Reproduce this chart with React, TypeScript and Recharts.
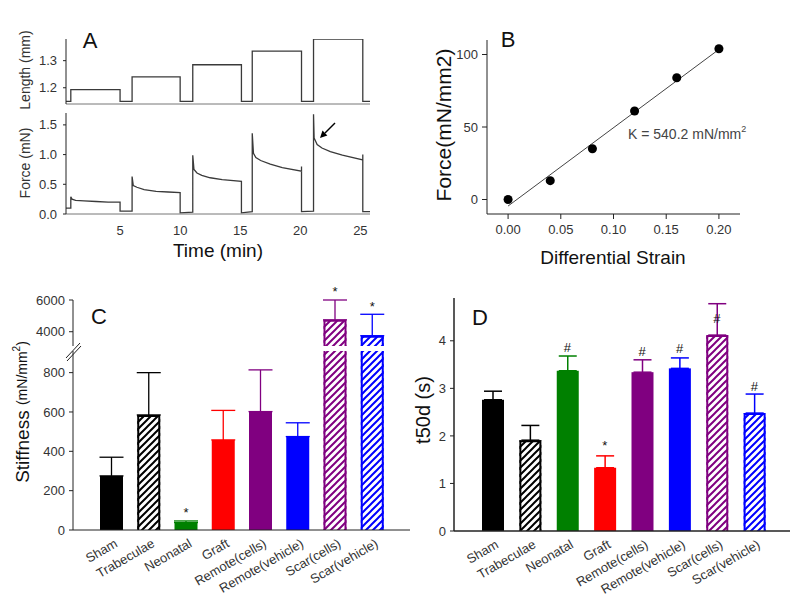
import {
  Bar,
  BarChart,
  ComposedChart,
  ErrorBar,
  Line,
  LineChart,
  ReferenceDot,
  Scatter,
  XAxis,
  YAxis,
} from 'recharts'

const FONT = '"Liberation Sans", Arial, Helvetica, sans-serif'
const INK = '#333'
const AXIS = '#222'
const TRACE = '#3a3a3a'

// ---- Panel A: step stretch protocol (length) and force response
const lengthTime = [0.5, 0.9, 0.9, 5, 5, 6, 6, 10, 10, 11.05, 11.05, 15.1, 15.1, 16, 16, 20.1, 20.1, 21.1, 21.1, 25.2, 25.2, 25.8]
const lengthMm = [1.15, 1.15, 1.193, 1.193, 1.15, 1.15, 1.24, 1.24, 1.15, 1.15, 1.285, 1.285, 1.15, 1.15, 1.335, 1.335, 1.15, 1.15, 1.38, 1.38, 1.15, 1.15]

const forceTime = [
  0.5, 0.9,
  0.9, 1.0, 1.3, 2, 3, 4, 5,
  5, 6,
  6, 6.1, 6.4, 7, 8, 9, 10,
  10, 11.05,
  11.05, 11.15, 11.4, 11.8, 12.5, 13.5, 15.1,
  15.1, 16,
  16, 16.1, 16.3, 16.7, 17.5, 18.5, 20.1, 20.1,
  20.1, 21.1,
  21.1, 21.15, 21.4, 21.8, 22.5, 23.5, 25.2, 25.2,
  25.2, 25.8,
]
const forceMn = [
  0.1, 0.1,
  0.29, 0.25, 0.23, 0.22, 0.21, 0.2, 0.2,
  0.05, 0.05,
  0.63, 0.48, 0.45, 0.41, 0.38, 0.37, 0.36,
  0.02, 0.03,
  0.99, 0.75, 0.69, 0.65, 0.61, 0.58, 0.55,
  0.02, 0.04,
  1.36, 1.02, 0.95, 0.9, 0.84, 0.78, 0.72, 0.8,
  0.04, 0.05,
  1.68, 1.28, 1.17, 1.11, 1.05, 0.99, 0.91, 1.0,
  0.04, 0.04,
]

// ---- Panel B: stress vs differential strain
const strain = [0, 0.04, 0.08, 0.12, 0.16, 0.2]
const stress = [0, 13, 35, 61, 84, 104]
const fitStrain = [0, 0.2]
const fitStress = [-4.5, 103.5]

// ---- Panels C and D: groups
const groups = ['Sham', 'Trabeculae', 'Neonatal', 'Graft', 'Remote(cells)', 'Remote(vehicle)', 'Scar(cells)', 'Scar(vehicle)']
const stiffness = [275, 585, 38, 458, 602, 475, 4750, 3750]
const stiffnessErr = [95, 215, 8, 150, 212, 70, 1250, 1350]
const stiffnessMark = [null, null, 102, null, null, null, 6680, 5750]
const stiffnessSig = ['', '', '*', '', '', '', '*', '*']

const t50d = [2.76, 1.91, 3.37, 1.33, 3.34, 3.42, 4.12, 2.48]
const t50dErr = [0.18, 0.31, 0.31, 0.25, 0.26, 0.22, 0.66, 0.4]
const t50dMark = [null, null, 3.87, 1.85, 3.77, 3.85, 4.47, 3.05]
const t50dSig = ['', '', '#', '*', '#', '#', '#', '#']

const groupColor = ['#000000', '#000000', '#008000', '#ff0000', '#800080', '#0000ff', '#800080', '#0000ff']
const groupHatched = [false, true, false, false, false, false, true, true]

// broken stiffness axis
const C_LOW_MAX = 910
const C_HIGH_MIN = 3100
const C_HIGH_MAX = 6000

const lengthRows = lengthTime.map((t, i) => ({ t, v: lengthMm[i] }))
const forceRows = forceTime.map((t, i) => ({ t, v: forceMn[i] }))
const strainPoints = strain.map((x, i) => ({ x, y: stress[i] }))
const fitRows = fitStrain.map((x, i) => ({ x, y: fitStress[i] }))

const stiffLow = groups.map((name, i) => ({
  name,
  i,
  v: stiffness[i],
  err: stiffness[i] + stiffnessErr[i] <= C_LOW_MAX ? stiffnessErr[i] : null,
}))
const stiffHigh = groups.map((name, i) => ({
  name,
  i,
  v: stiffness[i] > C_HIGH_MIN ? stiffness[i] : null,
  err: stiffness[i] > C_HIGH_MIN ? stiffnessErr[i] : null,
}))
const t50Rows = groups.map((name, i) => ({ name, i, v: t50d[i], err: t50dErr[i] }))

const tickStyle = { fontSize: 13, fill: INK, fontFamily: FONT }

function hatchDefs(prefix: string) {
  return (
    <defs>
      {groups.map((g, i) =>
        groupHatched[i] ? (
          <pattern key={g} id={`${prefix}-hatch-${i}`} patternUnits="userSpaceOnUse" width={7} height={7}>
            <rect width={7} height={7} fill="#fff" />
            <path d="M-1,1 l2,-2 M0,7 l7,-7 M6,8 l2,-2" stroke={groupColor[i]} strokeWidth={2} />
          </pattern>
        ) : null,
      )}
    </defs>
  )
}

function barShape(prefix: string) {
  return (props: any) => {
    const { x, y, width, height, payload } = props
    if (height == null || !width) return <g />
    const i = payload.i
    const c = groupColor[i]
    if (!groupHatched[i]) return <rect x={x} y={y} width={width} height={height} fill={c} />
    return (
      <g>
        <rect x={x} y={y} width={width} height={height} fill={`url(#${prefix}-hatch-${i})`} />
        <path
          d={`M${x + 1},${y + height} V${y + 1} H${x + width - 1} V${y + height}`}
          fill="none"
          stroke={c}
          strokeWidth={2}
        />
      </g>
    )
  }
}

function groupErrorBars(capWidth: number, strokeWidth: number) {
  return groups.map((g, i) => (
    <ErrorBar
      key={g}
      dataKey={(d: any) => (d.i === i && d.err != null ? [0, d.err] : undefined)}
      direction="y"
      width={capWidth}
      stroke={groupColor[i]}
      strokeWidth={strokeWidth}
    />
  ))
}

function sigDots(marks: (number | null)[], sig: string[], keep: (v: number) => boolean, size: number) {
  return groups.map((g, i) => {
    const m = marks[i]
    if (m == null || !keep(m)) return null
    return (
      <ReferenceDot
        key={g}
        x={g}
        y={m}
        r={0}
        ifOverflow="visible"
        shape={(p: any) => (
          <text
            x={p.cx}
            y={p.cy + (sig[i] === '*' ? 0.55 : 0.36) * size}
            textAnchor="middle"
            fontSize={size}
            fill="#111"
            fontFamily={FONT}
          >
            {sig[i]}
          </text>
        )}
      />
    )
  })
}

function SlantTick(props: any) {
  const { x, y, payload } = props
  const ax = x + 5
  const ay = y + 13
  return (
    <text
      x={ax}
      y={ay}
      transform={`rotate(-30 ${ax} ${ay})`}
      textAnchor="end"
      dominantBaseline="middle"
      fontSize={13}
      fill={INK}
      fontFamily={FONT}
    >
      {payload.value}
    </text>
  )
}

const abs = (left: number, top: number) => ({ position: 'absolute' as const, left, top })

function PanelA() {
  return (
    <>
      <div style={abs(0, 0)}>
        <LineChart width={400} height={110} data={lengthRows} margin={{ top: 39, right: 30, bottom: 0, left: 0 }}>
          <XAxis
            dataKey="t"
            type="number"
            domain={[0.5, 25.8]}
            allowDataOverflow
            tick={false}
            tickLine={false}
            height={6}
            axisLine={{ stroke: '#777' }}
          />
          <YAxis
            type="number"
            domain={[1.14, 1.38]}
            allowDataOverflow
            ticks={[1.2, 1.3]}
            tickFormatter={(v) => v.toFixed(1)}
            width={66}
            tickSize={3}
            tickMargin={6}
            tick={tickStyle}
            axisLine={{ stroke: AXIS }}
            tickLine={{ stroke: AXIS }}
          />
          <Line type="linear" dataKey="v" stroke={TRACE} strokeWidth={1.3} dot={false} isAnimationActive={false} />
        </LineChart>
      </div>
      <div style={abs(0, 0)}>
        <LineChart width={400} height={260} data={forceRows} margin={{ top: 113, right: 30, bottom: 14, left: 0 }}>
          <XAxis
            dataKey="t"
            type="number"
            domain={[0.5, 25.8]}
            allowDataOverflow
            ticks={[5, 10, 15, 20, 25]}
            height={32}
            tickLine={false}
            tickSize={4}
            tickMargin={8}
            tick={tickStyle}
            axisLine={{ stroke: '#777' }}
          />
          <YAxis
            type="number"
            domain={[0, 1.7]}
            allowDataOverflow
            ticks={[0, 0.5, 1, 1.5]}
            tickFormatter={(v) => v.toFixed(1)}
            width={66}
            tickSize={3}
            tickMargin={6}
            tick={tickStyle}
            axisLine={{ stroke: AXIS }}
            tickLine={{ stroke: AXIS }}
          />
          <Line type="linear" dataKey="v" stroke={TRACE} strokeWidth={1.3} dot={false} isAnimationActive={false} />
        </LineChart>
      </div>
    </>
  )
}

function PanelB() {
  return (
    <div style={abs(400, 0)}>
      <ComposedChart width={400} height={280} margin={{ top: 40, right: 60, bottom: 15, left: 0 }}>
        <XAxis
          dataKey="x"
          type="number"
          domain={[-0.02, 0.22]}
          allowDataOverflow
          ticks={[0, 0.05, 0.1, 0.15, 0.2]}
          tickFormatter={(v) => v.toFixed(2)}
          height={51}
          tickSize={5}
          tickMargin={6}
          tick={tickStyle}
          axisLine={{ stroke: AXIS }}
          tickLine={{ stroke: AXIS }}
        />
        <YAxis
          dataKey="y"
          type="number"
          domain={[-10, 110]}
          allowDataOverflow
          ticks={[0, 50, 100]}
          width={87}
          tickSize={5}
          tickMargin={4}
          tick={tickStyle}
          axisLine={{ stroke: AXIS }}
          tickLine={{ stroke: AXIS }}
        />
        <Line data={fitRows} type="linear" dataKey="y" stroke="#444" strokeWidth={1} dot={false} isAnimationActive={false} />
        <Scatter data={strainPoints} fill="#000" isAnimationActive={false} />
      </ComposedChart>
    </div>
  )
}

function PanelC() {
  return (
    <>
      <div style={abs(0, 280)}>
        <BarChart width={420} height={70} data={stiffHigh} margin={{ top: 20, right: 10, bottom: 4, left: 0 }}>
          {hatchDefs('ch')}
          <XAxis dataKey="name" hide padding={{ left: 20, right: 19 }} />
          <YAxis
            type="number"
            domain={[C_HIGH_MIN, C_HIGH_MAX]}
            allowDataOverflow
            ticks={[4000, 6000]}
            width={73}
            tickSize={4}
            tickMargin={4}
            tick={tickStyle}
            axisLine={{ stroke: AXIS }}
            tickLine={{ stroke: AXIS }}
          />
          <Bar dataKey="v" barSize={23} shape={barShape('ch')} isAnimationActive={false}>
            {groupErrorBars(12, 1.3)}
          </Bar>
          {sigDots(stiffnessMark, stiffnessSig, (v) => v > C_HIGH_MIN, 13)}
        </BarChart>
      </div>
      <div style={abs(0, 280)}>
        <BarChart width={420} height={325} data={stiffLow} margin={{ top: 71, right: 10, bottom: 0, left: 0 }}>
          {hatchDefs('cl')}
          <XAxis
            dataKey="name"
            padding={{ left: 20, right: 19 }}
            height={75}
            interval={0}
            tickLine={false}
            tickSize={0}
            tickMargin={0}
            tick={<SlantTick />}
            axisLine={{ stroke: AXIS }}
          />
          <YAxis
            type="number"
            domain={[0, C_LOW_MAX]}
            allowDataOverflow
            ticks={[0, 200, 400, 600, 800]}
            width={73}
            tickSize={4}
            tickMargin={4}
            tick={tickStyle}
            axisLine={{ stroke: AXIS }}
            tickLine={{ stroke: AXIS }}
          />
          <Bar dataKey="v" barSize={23} shape={barShape('cl')} isAnimationActive={false}>
            {groupErrorBars(12, 1.3)}
          </Bar>
          {sigDots(stiffnessMark, stiffnessSig, (v) => v <= C_LOW_MAX, 13)}
        </BarChart>
      </div>
    </>
  )
}

function PanelD() {
  return (
    <div style={abs(400, 280)}>
      <BarChart width={400} height={325} data={t50Rows} margin={{ top: 18, right: 10, bottom: 0, left: 0 }}>
        {hatchDefs('d')}
        <XAxis
          dataKey="name"
          padding={{ left: 20, right: 17 }}
          height={74}
          interval={0}
          tickLine={false}
          tickSize={0}
          tickMargin={0}
          tick={<SlantTick />}
          axisLine={{ stroke: AXIS, strokeWidth: 1.5 }}
        />
        <YAxis
          type="number"
          domain={[0, 4.9]}
          allowDataOverflow
          ticks={[0, 1, 2, 3, 4]}
          width={54}
          tickSize={4}
          tickMargin={4}
          tick={tickStyle}
          axisLine={{ stroke: AXIS, strokeWidth: 1.5 }}
          tickLine={{ stroke: AXIS }}
        />
        <Bar dataKey="v" barSize={22} shape={barShape('d')} isAnimationActive={false}>
          {groupErrorBars(9, 1.5)}
        </Bar>
        {sigDots(t50dMark, t50dSig, () => true, 13)}
      </BarChart>
    </div>
  )
}

function Overlay() {
  const title = { fontFamily: FONT, fill: '#111' }
  return (
    <svg width={800} height={605} style={{ position: 'absolute', left: 0, top: 0, pointerEvents: 'none' }}>
      {/* panel letters */}
      <text x={90} y={40} fontSize={22} textAnchor="middle" dominantBaseline="central" {...title}>A</text>
      <text x={508} y={39} fontSize={22} textAnchor="middle" dominantBaseline="central" {...title}>B</text>
      <text x={99} y={316} fontSize={22} textAnchor="middle" dominantBaseline="central" {...title}>C</text>
      <text x={480} y={317} fontSize={22} textAnchor="middle" dominantBaseline="central" {...title}>D</text>

      {/* A titles + arrow */}
      <text x={25} y={70} transform="rotate(-90 25 70)" fontSize={14} textAnchor="middle" dominantBaseline="central" {...title} fill={INK}>Length (mm)</text>
      <text x={25} y={163} transform="rotate(-90 25 163)" fontSize={14} textAnchor="middle" dominantBaseline="central" {...title} fill={INK}>Force (mN)</text>
      <text x={218} y={250} fontSize={19} textAnchor="middle" dominantBaseline="central" {...title}>Time (min)</text>
      <line x1={335} y1={123} x2={325} y2={133} stroke="#000" strokeWidth={1.5} />
      <polygon points="320,138 327.4,135.5 322.5,130.6" fill="#000" />

      {/* B titles + fit annotation */}
      <text x={443} y={125} transform="rotate(-90 443 125)" fontSize={21} textAnchor="middle" dominantBaseline="central" {...title}>Force(mN/mm2)</text>
      <text x={613} y={257} fontSize={19} textAnchor="middle" dominantBaseline="central" {...title}>Differential Strain</text>
      <text x={628} y={139} fontSize={14} {...title} fill="#444">
        K = 540.2 mN/mm<tspan fontSize={9} dy={-7}>2</tspan>
      </text>

      {/* C title + axis break */}
      <text x={22} y={412} transform="rotate(-90 22 412)" textAnchor="middle" dominantBaseline="central" {...title}>
        <tspan fontSize={19}>Stiffness </tspan>
        <tspan fontSize={14}>(mN/mm</tspan>
        <tspan fontSize={10} dy={-6}>2</tspan>
        <tspan fontSize={14} dy={6}>)</tspan>
      </text>
      <line x1={66} y1={358} x2={80} y2={343} stroke={AXIS} strokeWidth={1} />
      <line x1={67} y1={361} x2={81} y2={346} stroke={AXIS} strokeWidth={1} />

      {/* D title */}
      <text x={423} y={410} transform="rotate(-90 423 410)" fontSize={20} textAnchor="middle" dominantBaseline="central" {...title}>t50d (s)</text>
    </svg>
  )
}

export default function App() {
  return (
    <div style={{ position: 'absolute', left: 0, top: 0, width: 800, height: 605, background: '#fff', fontFamily: FONT }}>
      <PanelA />
      <PanelB />
      <PanelC />
      <PanelD />
      <Overlay />
    </div>
  )
}
